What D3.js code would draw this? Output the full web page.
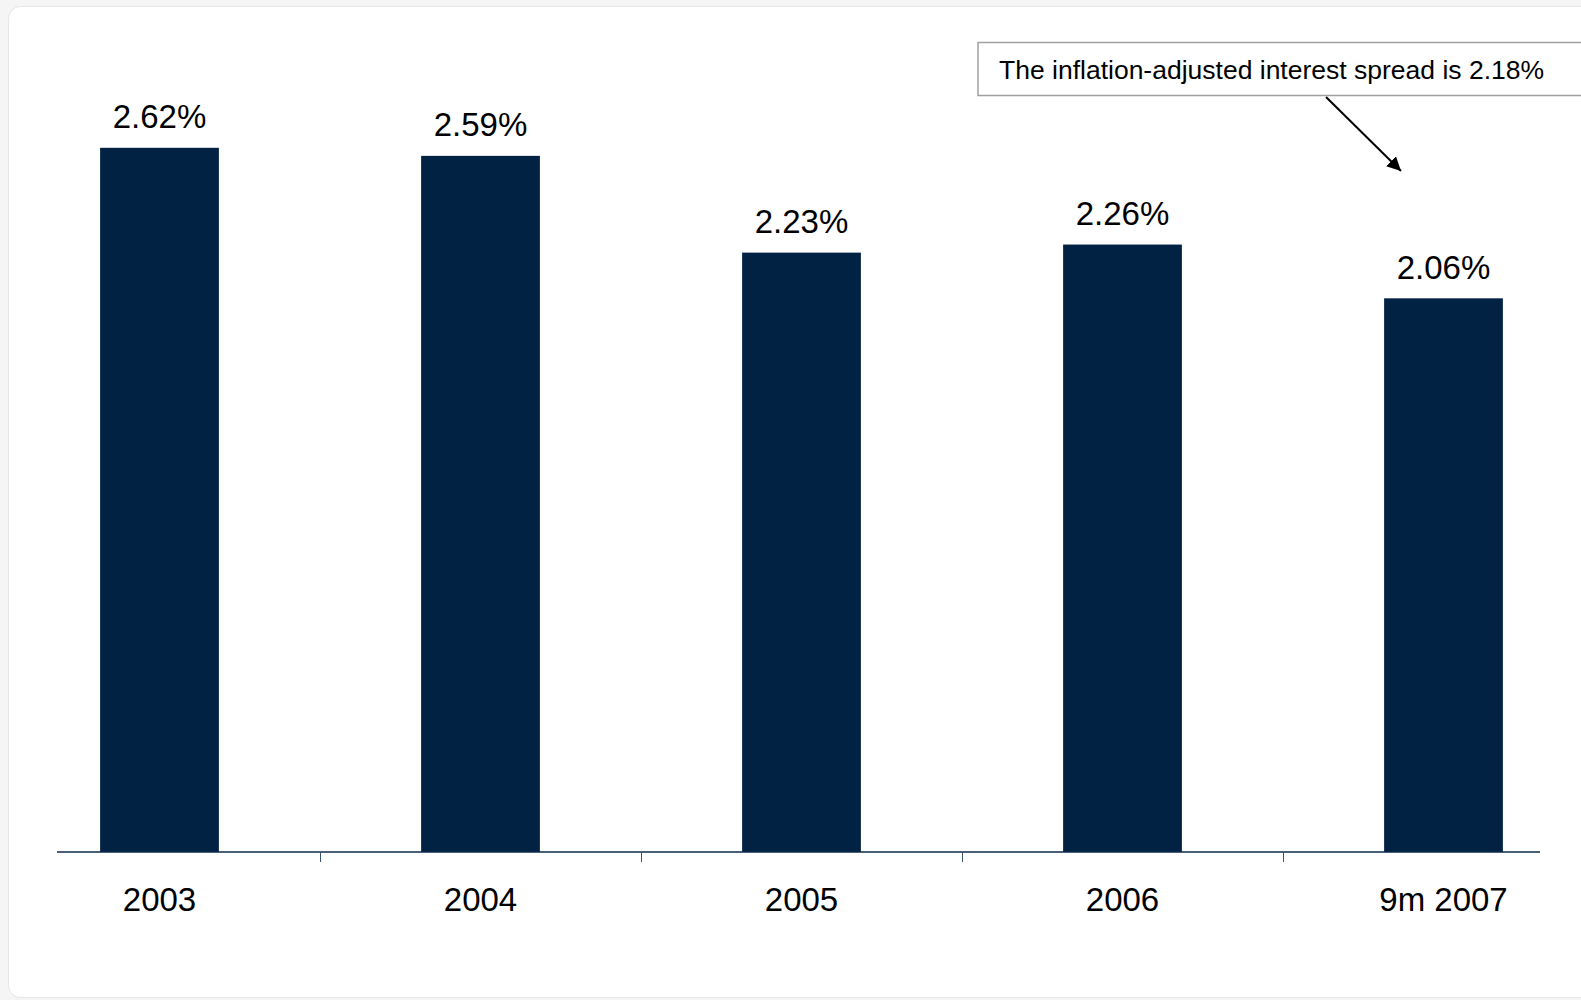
<!DOCTYPE html>
<html>
<head>
<meta charset="utf-8">
<script src="https://cdn.jsdelivr.net/npm/d3@7"></script>
<style>
  html, body { margin: 0; padding: 0; background: #f5f5f5; overflow: hidden; }
  svg { display: block; font-family: "Liberation Sans", Arial, sans-serif; }
</style>
</head>
<body>
<div id="chart"></div>
<script>
// Data
var categories = ["2003", "2004", "2005", "2006", "9m 2007"];
var spreads = [2.62, 2.59, 2.23, 2.26, 2.06];
var valueLabels = ["2.62%", "2.59%", "2.23%", "2.26%", "2.06%"];
var noteText = "The inflation-adjusted interest spread is 2.18%";

var svgWidth = 1581;
var svgHeight = 1000;
var axisY = 852;
var barColor = "#022244";

var svg = d3.select("#chart")
  .append("svg")
  .attr("width", svgWidth)
  .attr("height", svgHeight);

// white card
svg.append("rect")
  .attr("x", 8.5).attr("y", 6.5)
  .attr("width", 1700).attr("height", 991)
  .attr("rx", 12)
  .attr("fill", "#fff")
  .attr("stroke", "#e6e6e6");

var data = categories.map(function(c, i) {
  return { cat: c, value: spreads[i], label: valueLabels[i] };
});

// Scales
var x = d3.scaleBand().domain(categories).range([-1, 1604]).paddingInner(0.63).paddingOuter(0.315);
var y = d3.scaleLinear().domain([0, 2.62]).range([axisY, 147.8]);

// Bars
svg.selectAll(".bar")
  .data(data)
  .enter().append("rect")
  .attr("class", "bar")
  .attr("x", function(d) { return x(d.cat); })
  .attr("y", function(d) { return y(d.value); })
  .attr("width", x.bandwidth())
  .attr("height", function(d) { return axisY - y(d.value); })
  .attr("fill", barColor);

// Value labels
svg.selectAll(".val")
  .data(data)
  .enter().append("text")
  .attr("class", "val")
  .attr("x", function(d) { return x(d.cat) + x.bandwidth() / 2; })
  .attr("y", function(d) { return y(d.value) - 19.5; })
  .attr("text-anchor", "middle")
  .attr("font-size", 33)
  .attr("fill", "#000")
  .text(function(d) { return d.label; });

// Axis line
svg.append("line")
  .attr("x1", 57).attr("x2", 1540)
  .attr("y1", axisY).attr("y2", axisY)
  .attr("stroke", "#0d2a4a")
  .attr("stroke-width", 1.5);

// Ticks between categories
var step = x.step();
svg.selectAll(".tick-mark")
  .data(categories.slice(1))
  .enter().append("line")
  .attr("class", "tick-mark")
  .attr("x1", function(d) { return Math.round(x(d) - step * x.paddingInner() / 2 ) + 0.5; })
  .attr("x2", function(d) { return Math.round(x(d) - step * x.paddingInner() / 2 ) + 0.5; })
  .attr("y1", axisY).attr("y2", axisY + 10)
  .attr("stroke", "#3a5270")
  .attr("stroke-width", 1);

// Category labels
var xAxis = d3.axisBottom(x).tickSize(0).tickPadding(0);
var gx = svg.append("g")
  .attr("transform", "translate(0," + axisY + ")")
  .call(xAxis);
gx.select(".domain").remove();
gx.selectAll("text")
  .attr("y", 59)
  .attr("dy", 0)
  .attr("font-size", 33)
  .attr("font-family", "Liberation Sans, Arial, sans-serif")
  .attr("fill", "#000");

// Annotation box
var note = svg.append("g");
note.append("rect")
  .attr("x", 978).attr("y", 42.5)
  .attr("width", 700).attr("height", 53)
  .attr("fill", "#fff")
  .attr("stroke", "#a0a0a0")
  .attr("stroke-width", 1.5);
note.append("text")
  .attr("x", 999).attr("y", 79)
  .attr("font-size", 26.5)
  .attr("fill", "#000")
  .text(noteText);

svg.append("defs").append("marker")
  .attr("id", "arrow")
  .attr("viewBox", "0 0 10 10")
  .attr("refX", 10).attr("refY", 5)
  .attr("markerWidth", 7).attr("markerHeight", 7)
  .attr("markerUnits", "strokeWidth")
  .attr("orient", "auto")
  .append("path")
  .attr("d", "M0,0 L10,5 L0,10 z")
  .attr("fill", "#000");

svg.append("line")
  .attr("x1", 1326).attr("y1", 97)
  .attr("x2", 1401).attr("y2", 171)
  .attr("stroke", "#000")
  .attr("stroke-width", 2)
  .attr("marker-end", "url(#arrow)");
</script>
</body>
</html>
